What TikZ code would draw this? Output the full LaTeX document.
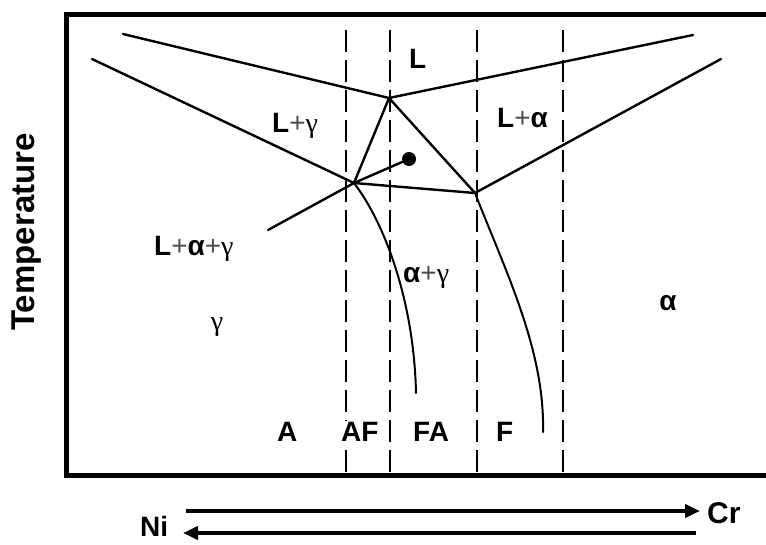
\documentclass[tikz,border=0pt]{standalone}
\usepackage{fontspec}
\setmainfont{Liberation Sans}
\newfontfamily\grserif{Liberation Serif}
\usetikzlibrary{arrows.meta}
\newcommand\plussign{{\mdseries\color{black!70}+}}
\newcommand\gam{{\mdseries\grserif γ}}
\begin{document}
\begin{tikzpicture}[x=1pt,y=-1pt,
  phase/.style={line width=2.4pt, line cap=round, line join=round},
  bound/.style={line width=2pt, line cap=round},
  dashline/.style={line width=2.4pt, dash pattern=on 22pt off 8pt},
  frame/.style={line width=5pt, line join=miter},
  lab/.style={font=\fontsize{28}{30}\selectfont\bfseries, inner sep=0pt, anchor=base west},
  flow/.style={line width=4pt, -{Triangle[length=15pt,width=13pt]}}
]
\useasboundingbox (0,0) rectangle (766,544);
\fill[white] (0,0) rectangle (766,544);

% frame (right side runs off the picture)
\draw[frame] (780,14) -- (66,14) -- (66,475) -- (780,475);

% dashed composition lines
\foreach \n/\x in {d1/346, d2/390, d3/477, d4/563} {
  \coordinate (\n t) at (\x,30);
  \coordinate (\n b) at (\x,475);
  \draw[dashline] (\n t) -- (\n b);
}

% key points
\coordinate (V) at (389,98);
\coordinate (P) at (354,183);
\coordinate (Q) at (475,193);
\coordinate (LT) at (123,34);
\coordinate (RT) at (693,35);
\coordinate (LM) at (92,59);
\coordinate (RM) at (721,59);
\coordinate (LL) at (268,230);
\coordinate (C1) at (416,393);
\coordinate (C2) at (543,432);
\node[circle, fill=black, inner sep=0pt, minimum size=14pt] (dot) at (409,159) {};

% liquidus / solidus lines
\draw[phase] (LT) -- (V) -- (RT);
\draw[phase] (LM) -- (P);
\draw[phase] (Q) -- (RM);
\draw[phase] (V) -- (P);
\draw[phase] (V) -- (Q);
\draw[phase] (P) -- (Q);
\draw[phase] (LL) -- (P) -- (dot.center);

% solvus curves
\draw[bound] (P) .. controls (384,222) and (414,300) .. (C1);
\draw[bound] (Q) .. controls (505,270) and (545,350) .. (C2);

% labels
\node[lab] (lL) at (409,68) {L};
\node[lab] (lLg) at (272,132) {L\plussign\gam};
\node[lab] (lLa) at (497,127) {L\plussign α};
\node[lab] (lLag) at (154,255) {L\plussign α\plussign\gam};
\node[lab] (lag) at (403,282) {α\plussign\gam};
\node[lab, anchor=base] (lg) at (217,330) {\gam};
\node[lab, anchor=base] (la) at (668,310) {α};
\node[lab] (lA) at (277,441) {A};
\node[lab, fill=white, inner sep=1pt] (lAF) at (340,441) {AF};
\node[lab] (lFA) at (413,441) {FA};
\node[lab] (lF) at (496,441) {F};

\node[lab, font=\fontsize{33}{35}\selectfont\bfseries, rotate=90, anchor=center] (temp) at (27,232) {Temperature};

% composition arrows
\coordinate (a1s) at (186,511);
\coordinate (a1e) at (700,511);
\coordinate (a2s) at (696,533);
\coordinate (a2e) at (183,533);
\draw[flow] (a1s) -- (a1e);
\draw[flow] (a2s) -- (a2e);
\node[lab, font=\fontsize{30}{32}\selectfont\bfseries] (cr) at (707,523) {Cr};
\node[lab] (ni) at (140,536) {Ni};
\end{tikzpicture}
\end{document}
